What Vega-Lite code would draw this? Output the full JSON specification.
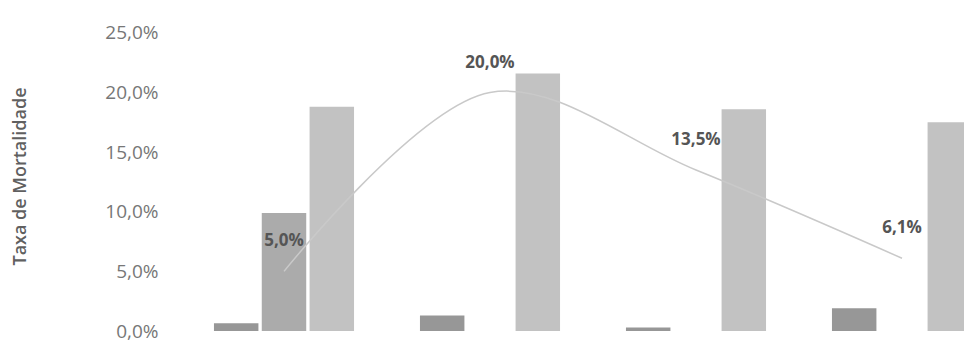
{
  "$schema": "https://vega.github.io/schema/vega-lite/v6.json",
  "autosize": "none",
  "width": 824,
  "height": 310,
  "padding": {"left": 181, "top": 21, "right": 0, "bottom": 13},
  "background": "white",
  "config": {
    "view": {"stroke": null},
    "font": "Open Sans",
    "locale": {"number": {"decimal": ",", "thousands": ".", "grouping": [3], "currency": ["R$", ""]}}
  },
  "datasets": {
    "barras": [
      {"grupo": "G1", "serie": "S1", "valor": 0.0065},
      {"grupo": "G1", "serie": "S2", "valor": 0.099},
      {"grupo": "G1", "serie": "S3", "valor": 0.188},
      {"grupo": "G2", "serie": "S1", "valor": 0.013},
      {"grupo": "G2", "serie": "S2", "valor": 0},
      {"grupo": "G2", "serie": "S3", "valor": 0.216},
      {"grupo": "G3", "serie": "S1", "valor": 0.003},
      {"grupo": "G3", "serie": "S2", "valor": 0},
      {"grupo": "G3", "serie": "S3", "valor": 0.186},
      {"grupo": "G4", "serie": "S1", "valor": 0.019},
      {"grupo": "G4", "serie": "S2", "valor": 0},
      {"grupo": "G4", "serie": "S3", "valor": 0.175}
    ],
    "linha": [
      {"grupo": "G1", "taxa": 0.05},
      {"grupo": "G2", "taxa": 0.20},
      {"grupo": "G3", "taxa": 0.135},
      {"grupo": "G4", "taxa": 0.061}
    ]
  },
  "layer": [
    {
      "data": {"name": "barras"},
      "mark": {"type": "bar"},
      "encoding": {
        "x": {"field": "grupo", "type": "nominal", "scale": {"paddingInner": 0.32, "paddingOuter": 0.16}, "axis": null},
        "xOffset": {"field": "serie", "type": "nominal", "scale": {"paddingInner": 0.07}},
        "y": {
          "field": "valor", "type": "quantitative",
          "scale": {"domain": [0, 0.25]},
          "axis": {
            "values": [0, 0.05, 0.1, 0.15, 0.2, 0.25],
            "format": ".1%",
            "domain": false, "ticks": false, "grid": false,
            "labelFontSize": 19, "labelColor": "#777777", "labelPadding": 23,
            "title": "Taxa de Mortalidade", "titleFontSize": 18, "titleColor": "#606060",
            "titleFontWeight": 600, "titlePadding": 75
          }
        },
        "color": {"field": "serie", "type": "nominal", "scale": {"domain": ["S1", "S2", "S3"], "range": ["#979797", "#ababab", "#c2c2c2"]}, "legend": null}
      }
    },
    {
      "data": {"name": "linha"},
      "mark": {"type": "line", "interpolate": "catmull-rom", "color": "#c9c9c9", "strokeWidth": 1.5},
      "encoding": {
        "x": {"field": "grupo", "type": "nominal"},
        "y": {"field": "taxa", "type": "quantitative"}
      }
    },
    {
      "data": {"name": "linha"},
      "mark": {"type": "text", "dy": -30, "fontWeight": "bold", "fontSize": 17, "color": "#555555"},
      "encoding": {
        "x": {"field": "grupo", "type": "nominal"},
        "y": {"field": "taxa", "type": "quantitative"},
        "text": {"field": "taxa", "type": "quantitative", "format": ".1%"}
      }
    }
  ]
}
